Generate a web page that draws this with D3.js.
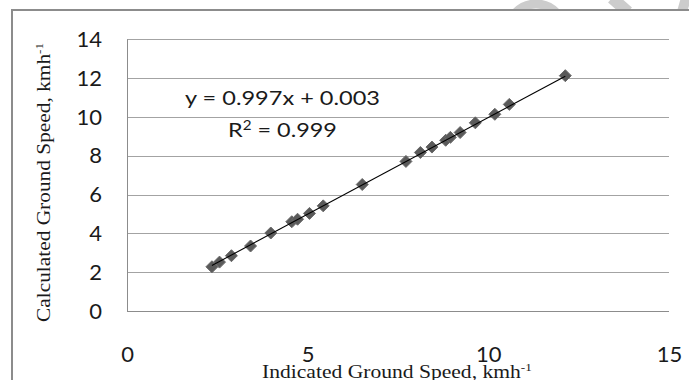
<!DOCTYPE html>
<html>
<head>
<meta charset="utf-8">
<script src="https://cdn.jsdelivr.net/npm/d3@7"></script>
<style>
  html, body { margin: 0; padding: 0; background: #fff; }
  svg { display: block; }
</style>
</head>
<body>
<div id="chart"></div>
<script>
// ---- data ----
const indicatedSpeed = [2.35, 2.56, 2.89, 3.42, 3.98, 4.56, 4.72, 5.05, 5.43, 6.51, 7.72, 8.12, 8.44, 8.82, 8.95, 9.22, 9.64, 10.18, 10.58, 12.13];
const calculatedSpeed = [2.28, 2.52, 2.85, 3.35, 4.02, 4.60, 4.73, 5.03, 5.42, 6.52, 7.71, 8.17, 8.45, 8.80, 8.95, 9.20, 9.70, 10.14, 10.65, 12.13];
const xTicks = [0, 5, 10, 15];
const yTicks = [0, 2, 4, 6, 8, 10, 12, 14];
const trendSlope = 0.997;
const trendIntercept = 0.003;
const equationLabel = "y = 0.997x + 0.003";
const r2Base = "R";
const r2Sup = "2";
const r2Rest = " = 0.999";
const xTitle = "Indicated Ground Speed, kmh";
const yTitle = "Calculated Ground Speed, kmh";
const unitSup = "-1";

const W = 689, H = 380;
const svg = d3.select("#chart").append("svg").attr("width", W).attr("height", H);

// faint watermark fragments above the frame
svg.append("clipPath").attr("id", "topclip").append("rect").attr("x", 0).attr("y", 0).attr("width", W).attr("height", 9);
const wm = svg.append("g").attr("fill", "none").attr("stroke", "#cccccc").attr("clip-path", "url(#topclip)");
wm.append("circle").attr("cx", 536).attr("cy", 32).attr("r", 28).attr("stroke-width", 9);
wm.append("line").attr("x1", 612).attr("y1", -2).attr("x2", 628).attr("y2", 12).attr("stroke-width", 12);
wm.append("line").attr("x1", 686).attr("y1", -2).attr("x2", 682).attr("y2", 12).attr("stroke-width", 10);

// outer frame
svg.append("rect").attr("x", 12).attr("y", 10).attr("width", 720).attr("height", 420)
  .attr("fill", "none").attr("stroke", "#8c8c8c").attr("stroke-width", 2);

const x = d3.scaleLinear().domain([0, 15]).range([127, 669]);
const y = d3.scaleLinear().domain([0, 14]).range([311, 39.4]);

// gridlines
svg.append("g").selectAll("line").data(yTicks.filter(d => d > 0)).join("line")
  .attr("x1", x(0)).attr("x2", x(15))
  .attr("y1", d => Math.round(y(d)) + 0.5).attr("y2", d => Math.round(y(d)) + 0.5)
  .attr("stroke", "#a3a3a3").attr("stroke-width", 1);

// axis lines
svg.append("line").attr("x1", Math.round(x(0)) + 0.5).attr("x2", Math.round(x(0)) + 0.5)
  .attr("y1", y(14)).attr("y2", y(0)).attr("stroke", "#8c8c8c");
svg.append("line").attr("x1", x(0)).attr("x2", x(15))
  .attr("y1", Math.round(y(0)) + 0.5).attr("y2", Math.round(y(0)) + 0.5).attr("stroke", "#8c8c8c");

// tick labels
const tickFont = "Lato, 'Open Sans', sans-serif";
const yAxis = svg.append("g").attr("transform", `translate(${x(0)},0)`)
  .call(d3.axisLeft(y).tickValues(yTicks).tickSize(0).tickPadding(25).tickFormat(d3.format("d")));
yAxis.select(".domain").remove();
yAxis.selectAll("text").attr("font-family", tickFont).attr("font-size", 22).attr("fill", "#1a1a1a");

const xAxis = svg.append("g").attr("transform", `translate(0,${y(0)})`)
  .call(d3.axisBottom(x).tickValues(xTicks).tickSize(0).tickPadding(35).tickFormat(d3.format("d")));
xAxis.select(".domain").remove();
xAxis.selectAll("text").attr("font-family", tickFont).attr("font-size", 22).attr("fill", "#1a1a1a");

// diamond markers
const pts = indicatedSpeed.map((v, i) => [v, calculatedSpeed[i]]);
const r = 6;
svg.append("g").selectAll("path").data(pts).join("path")
  .attr("d", d => {
    const cx = x(d[0]), cy = y(d[1]);
    return `M${cx},${cy - r}L${cx + r},${cy}L${cx},${cy + r}L${cx - r},${cy}Z`;
  })
  .attr("fill", "#5a5a5a").attr("stroke", "#6a6a6a").attr("stroke-width", 1);

// trendline (on top of markers)
const xmin = d3.min(indicatedSpeed), xmax = d3.max(indicatedSpeed);
svg.append("line")
  .attr("x1", x(xmin)).attr("y1", y(trendSlope * xmin + trendIntercept))
  .attr("x2", x(xmax)).attr("y2", y(trendSlope * xmax + trendIntercept))
  .attr("stroke", "#000").attr("stroke-width", 1.1);

// equation labels
const eq = svg.append("text").attr("x", 185).attr("y", 105)
  .attr("font-family", tickFont).attr("font-size", 20).attr("fill", "#1a1a1a").text(equationLabel)
  .attr("textLength", 195).attr("lengthAdjust", "spacingAndGlyphs");

const r2g = svg.append("g");
const r2 = r2g.append("text").attr("x", 0).attr("y", 0)
  .attr("font-family", tickFont).attr("font-size", 20).attr("fill", "#1a1a1a");
r2.append("tspan").text(r2Base);
r2.append("tspan").attr("font-size", 13).attr("dy", -7).text(r2Sup);
r2.append("tspan").attr("dy", 7).text(r2Rest);
const r2w = r2.node().getBBox().width;
r2g.attr("transform", `translate(228,137) scale(${109 / r2w},1)`);

// axis titles
const serif = "'Liberation Serif', 'DejaVu Serif', serif";
function titleWithSup(g, main, sup) {
  const t = g.append("text").attr("x", 0).attr("y", 0)
    .attr("font-family", serif).attr("font-size", 18).attr("fill", "#1a1a1a");
  t.append("tspan").text(main);
  t.append("tspan").attr("font-size", 11).attr("dy", -7).text(sup);
  return t;
}
const xg = svg.append("g");
const xt = titleWithSup(xg, xTitle, unitSup);
const xw = xt.node().getBBox().width;
xg.attr("transform", `translate(262,378) scale(${270 / xw},1)`);

const yg = svg.append("g");
const yt = titleWithSup(yg, yTitle, unitSup);
const yw = yt.node().getBBox().width;
yg.attr("transform", `translate(50,322) rotate(-90) scale(${279 / yw},1)`);
</script>
</body>
</html>
